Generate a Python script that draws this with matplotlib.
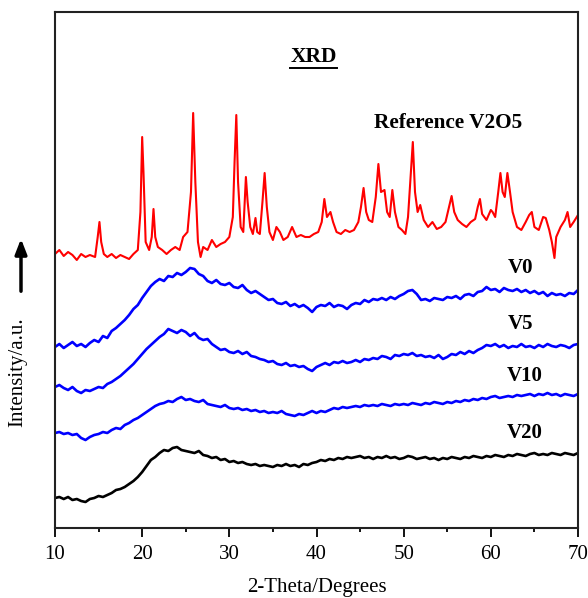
import numpy as np
import matplotlib
matplotlib.use("Agg")
import matplotlib.pyplot as plt
from matplotlib.ticker import MultipleLocator
from matplotlib.lines import Line2D

# ---------------- data (2-theta in degrees, intensity in arbitrary units) ----------------
ref_x = [10.0, 10.5, 11, 11.5, 12, 12.5, 13, 13.5, 14, 14.6, 14.9, 15.1, 15.3, 15.6, 16, 16.5, 17, 17.5, 18,
         18.5, 19, 19.5, 19.8, 20.0, 20.15, 20.4, 20.8, 21.1, 21.3, 21.5, 21.8, 22.3, 22.8, 23.3, 23.8, 24.3,
         24.7, 25.2, 25.6, 25.85, 26.1, 26.4, 26.7, 27, 27.5, 28, 28.5, 29, 29.5, 30, 30.4, 30.6, 30.8, 31.0,
         31.3, 31.6, 31.9, 32.1, 32.4, 32.7, 33.0, 33.2, 33.5, 33.8, 34.05, 34.3, 34.6, 35, 35.4, 35.8, 36.2,
         36.7, 37.2, 37.7, 38.2, 38.7, 39.2, 39.7, 40.2, 40.6, 40.9, 41.2, 41.6, 41.9, 42.3, 42.8, 43.3, 43.8,
         44.3, 44.8, 45.1, 45.4, 45.7, 46, 46.4, 46.8, 47.1, 47.4, 47.8, 48.1, 48.4, 48.7, 49, 49.4, 49.8, 50.2,
         50.5, 50.8, 51.05, 51.3, 51.6, 51.9, 52.3, 52.8, 53.3, 53.8, 54.3, 54.8, 55.2, 55.5, 55.8, 56.2, 56.7,
         57.2, 57.7, 58.2, 58.5, 58.75, 59, 59.5, 60, 60.2, 60.5, 60.85, 61.1, 61.35, 61.6, 61.9, 62.2, 62.5,
         63, 63.5, 64, 64.4, 64.7, 65, 65.5, 66.0, 66.3, 66.7, 67.0, 67.3, 67.5, 68, 68.5, 68.8, 69.1, 69.5, 70]
ref_y = [258, 262, 256, 260, 257, 252, 258, 255, 257, 255, 275, 290, 270, 258, 255, 258, 254, 257, 255,
         253, 258, 262, 300, 375, 340, 270, 262, 275, 303, 275, 265, 262, 258, 262, 265, 262,
         275, 280, 320, 399, 330, 270, 255, 265, 262, 272, 265, 268, 270, 275, 295, 350, 397, 330,
         285, 280, 335, 310, 285, 278, 294, 280, 278, 310, 339, 305, 280, 272, 285, 280, 272,
         275, 285, 275, 277, 275, 275, 278, 280, 290, 313, 295, 300, 290, 280, 278, 282, 280,
         282, 290, 305, 324, 300, 292, 290, 315, 348, 320, 322, 300, 295, 322, 300, 285, 282, 278,
         295, 335, 370, 320, 300, 307, 292, 285, 290, 283, 285, 290, 305, 316, 300, 292, 288,
         285, 290, 293, 305, 313, 298, 292, 302, 300, 295, 320, 339, 320, 315, 339, 320, 300,
         285, 282, 290, 297, 300, 285, 282, 295, 294, 282, 270, 254, 275, 285, 292, 300, 285, 290, 297]

v0_y = [165, 168, 164, 167, 170, 166, 168, 165, 169, 172, 170, 176, 174, 181, 184, 188, 192, 197, 203, 207,
        214, 220, 226, 230, 233, 231, 236, 235, 239, 237, 240, 244, 243, 238, 236, 231, 229, 232, 228, 227,
        229, 225, 224, 227, 222, 219, 221, 218, 215, 212, 213, 209, 208, 210, 206, 208, 205, 207, 204, 200,
        205, 207, 206, 209, 205, 207, 206, 203, 207, 209, 208, 212, 210, 213, 212, 214, 212, 215, 213, 216,
        218, 221, 222, 218, 212, 213, 211, 214, 213, 212, 215, 214, 216, 213, 217, 218, 216, 220, 221, 225,
        222, 223, 220, 224, 222, 221, 223, 220, 222, 219, 221, 218, 220, 216, 219, 217, 218, 216, 219, 218,
        222]
v5_y = [125, 127, 124, 122, 125, 121, 119, 122, 121, 123, 125, 124, 128, 130, 133, 136, 140, 144, 148, 153,
        158, 163, 167, 171, 175, 178, 183, 181, 179, 182, 180, 176, 179, 174, 172, 173, 168, 165, 162, 163,
        160, 159, 161, 158, 160, 156, 155, 153, 152, 150, 151, 148, 147, 149, 146, 147, 145, 146, 143, 141,
        145, 147, 149, 147, 150, 149, 151, 149, 150, 152, 150, 153, 152, 154, 153, 156, 155, 153, 157, 156,
        158, 157, 159, 156, 157, 155, 156, 154, 157, 153, 155, 158, 157, 160, 158, 161, 159, 162, 164, 167,
        166, 168, 165, 167, 164, 166, 165, 168, 165, 166, 164, 167, 165, 168, 166, 165, 167, 166, 164, 167,
        168]
v10_y = [79, 80, 78, 79, 77, 78, 74, 72, 75, 77, 78, 80, 79, 82, 84, 83, 87, 89, 92, 94,
         97, 100, 103, 106, 108, 109, 111, 110, 113, 115, 112, 113, 111, 110, 112, 108, 107, 106, 105, 107,
         104, 103, 104, 102, 103, 101, 102, 100, 101, 99, 100, 99, 101, 98, 97, 96, 98, 97, 99, 101,
         99, 101, 100, 102, 104, 103, 105, 104, 105, 106, 105, 107, 106, 107, 106, 108, 107, 106, 108, 107,
         108, 107, 109, 108, 107, 109, 108, 110, 109, 108, 110, 109, 111, 110, 112, 111, 113, 112, 114, 113,
         115, 116, 114, 115, 116, 115, 117, 116, 117, 118, 116, 118, 117, 119, 117, 118, 116, 118, 117, 116,
         118]
v20_y = [14, 15, 13, 15, 12, 13, 11, 10, 13, 14, 16, 15, 17, 19, 22, 23, 25, 28, 31, 35,
         40, 46, 52, 55, 59, 62, 61, 64, 65, 62, 61, 60, 59, 61, 57, 56, 54, 55, 52, 53,
         50, 51, 49, 50, 48, 47, 48, 46, 47, 46, 45, 47, 46, 48, 46, 47, 45, 48, 47, 49,
         50, 52, 51, 53, 52, 54, 53, 55, 54, 55, 56, 54, 55, 53, 55, 54, 56, 54, 55, 53,
         54, 56, 55, 53, 54, 55, 53, 54, 52, 54, 53, 55, 54, 53, 55, 54, 56, 55, 54, 56,
         55, 57, 56, 55, 57, 56, 58, 57, 56, 58, 59, 57, 58, 57, 59, 58, 57, 59, 58, 57,
         59]

labels = ["V0", "V5", "V10", "V20"]
label_x = [63.35, 63.35, 63.9, 63.9]
label_y = [244, 188, 136, 79]

# ---------------- figure ----------------
plt.rcParams['font.family'] = ['Liberation Serif', 'DejaVu Serif']
fig = plt.figure(figsize=(5.88, 5.98), dpi=100)
ax = fig.add_axes([55 / 588, 70 / 598, 523 / 588, 516 / 598])

lw = 1.9
ax.plot(ref_x, ref_y, color='#ff0000', lw=1.5)
for ys, c in [(v0_y, '#0000ff'), (v5_y, '#0000ff'), (v10_y, '#0000ff'), (v20_y, 'black')]:
    xs = np.linspace(10, 70, len(ys))
    ax.plot(xs, ys, color=c, lw=lw)

ax.set_xlim(10, 70)
ax.set_ylim(-16, 500)
ax.set_yticks([])
ax.xaxis.set_major_locator(MultipleLocator(10))
ax.xaxis.set_minor_locator(MultipleLocator(5))
ax.tick_params(axis='x', which='major', direction='out', length=6.5, width=1.3, labelsize=15, pad=6)
ax.tick_params(axis='x', which='minor', direction='out', length=3, width=1.3)
for s in ax.spines.values():
    s.set_linewidth(1.5)
    s.set_color('#222222')

ax.set_xlabel("2-Theta/Degrees", fontsize=15, labelpad=10)
fig.text(18 / 588, 1 - 372 / 598, "Intensity/a.u.", rotation=90, fontsize=15, ha='center', va='center')
ax.annotate("", xy=(21 / 588, 1 - 236 / 598), xytext=(21 / 588, 1 - 294 / 598),
            xycoords='figure fraction', textcoords='figure fraction',
            arrowprops=dict(arrowstyle='-|>,head_length=0.9,head_width=0.35', color='black', lw=2.5))

t = ax.text(39.65, 455, "XRD", fontsize=15.5, fontweight='bold', ha='center', va='center')
ax.text(55.06, 389, "Reference V2O5", fontsize=15.3, fontweight='bold', ha='center', va='center')
for lab, x, y in zip(labels, label_x, label_y):
    ax.text(x, y, lab, fontsize=15, fontweight='bold', ha='center', va='center')

# underline for XRD title
fig.canvas.draw()
bb = t.get_window_extent(renderer=fig.canvas.get_renderer())
inv = fig.transFigure.inverted()
(x0, y0), (x1, y1) = inv.transform([(bb.x0, bb.y0), (bb.x1, bb.y0)])
fig.add_artist(Line2D([x0, x1], [y0 - 0.001, y0 - 0.001], transform=fig.transFigure, color='black', lw=1.4))

fig.savefig("out.png", dpi=100)
